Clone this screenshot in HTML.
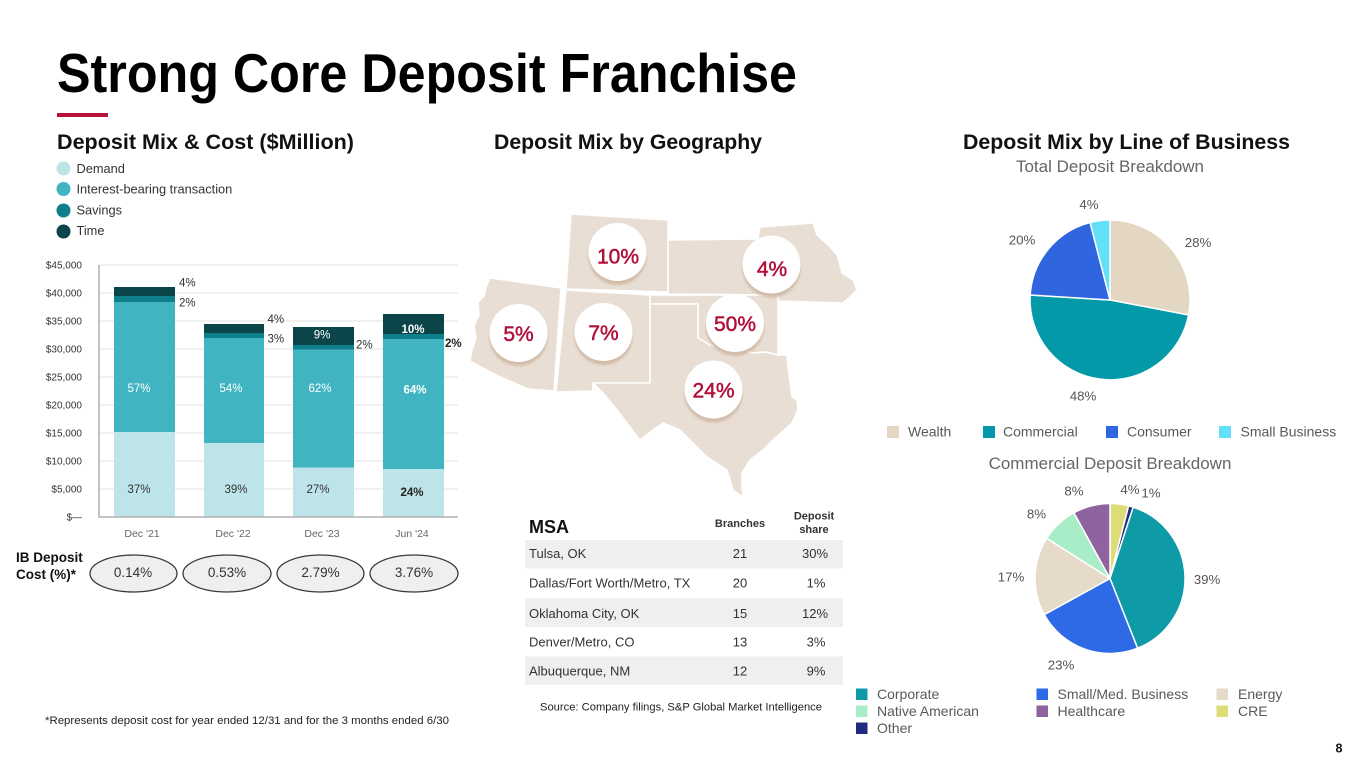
<!DOCTYPE html>
<html><head><meta charset="utf-8"><style>
html,body{margin:0;padding:0;background:#fff;}
body{width:1365px;height:769px;overflow:hidden;}
svg{display:block;font-family:"Liberation Sans",Arial,sans-serif;}
</style></head><body>
<svg width="1365" height="769" viewBox="0 0 1365 769" xmlns="http://www.w3.org/2000/svg">
<defs>
<filter id="sh" x="-30%" y="-30%" width="160%" height="160%"><feGaussianBlur stdDeviation="1.2"/></filter>
</defs>
<!-- Title -->
<text x="57" y="92" font-size="55" font-weight="bold" fill="#000" textLength="740" lengthAdjust="spacingAndGlyphs">Strong Core Deposit Franchise</text>
<rect x="57" y="113" width="51" height="4" fill="#b5123a"/>
<text x="57" y="149" font-size="21.5" font-weight="bold" fill="#111" textLength="297" lengthAdjust="spacingAndGlyphs">Deposit Mix &amp; Cost ($Million)</text>
<text x="494" y="149" font-size="21.5" font-weight="bold" fill="#111" textLength="268" lengthAdjust="spacingAndGlyphs">Deposit Mix by Geography</text>
<text x="963" y="149" font-size="21.5" font-weight="bold" fill="#111" textLength="327" lengthAdjust="spacingAndGlyphs">Deposit Mix by Line of Business</text>

<!-- Bar chart legend -->
<circle cx="63.5" cy="168.5" r="7" fill="#bde4e8"/>
<circle cx="63.5" cy="189" r="7" fill="#41b4c2"/>
<circle cx="63.5" cy="210.5" r="7" fill="#0e7f8b"/>
<circle cx="63.5" cy="231.5" r="7" fill="#0b4449"/>
<g font-size="12.8" fill="#333">
<text x="76.5" y="173">Demand</text>
<text x="76.5" y="193.5">Interest-bearing transaction</text>
<text x="76.5" y="214.5">Savings</text>
<text x="76.5" y="235">Time</text>
</g>

<!-- grid -->
<g stroke="#e3e3e3" stroke-width="1">
<line x1="99" y1="265" x2="458" y2="265"/><line x1="99" y1="293" x2="458" y2="293"/>
<line x1="99" y1="321" x2="458" y2="321"/><line x1="99" y1="349" x2="458" y2="349"/>
<line x1="99" y1="377" x2="458" y2="377"/><line x1="99" y1="405" x2="458" y2="405"/>
<line x1="99" y1="433" x2="458" y2="433"/><line x1="99" y1="461" x2="458" y2="461"/>
<line x1="99" y1="489" x2="458" y2="489"/>
</g>
<g font-size="10" fill="#333" text-anchor="end">
<text x="82" y="268.5">$45,000</text><text x="82" y="296.5">$40,000</text>
<text x="82" y="324.5">$35,000</text><text x="82" y="352.5">$30,000</text>
<text x="82" y="380.5">$25,000</text><text x="82" y="408.5">$20,000</text>
<text x="82" y="436.5">$15,000</text><text x="82" y="464.5">$10,000</text>
<text x="82" y="492.5">$5,000</text><text x="82" y="520.5">$—</text>
</g>

<!-- bars -->
<g>
<rect x="114" y="287" width="61" height="9" fill="#0b4449"/>
<rect x="114" y="296" width="61" height="6" fill="#0e7f8b"/>
<rect x="114" y="302" width="61" height="130" fill="#41b4c2"/>
<rect x="114" y="432" width="61" height="85" fill="#bde4e8"/>

<rect x="204" y="324" width="60" height="9" fill="#0b4449"/>
<rect x="204" y="333" width="60" height="5" fill="#0e7f8b"/>
<rect x="204" y="338" width="60" height="105" fill="#41b4c2"/>
<rect x="204" y="443" width="60" height="74" fill="#bde4e8"/>

<rect x="293" y="327" width="61" height="18" fill="#0b4449"/>
<rect x="293" y="345" width="61" height="4.5" fill="#0e7f8b"/>
<rect x="293" y="349.5" width="61" height="118" fill="#41b4c2"/>
<rect x="293" y="467.5" width="61" height="49.5" fill="#bde4e8"/>

<rect x="383" y="314" width="61" height="20" fill="#0b4449"/>
<rect x="383" y="334" width="61" height="5" fill="#0e7f8b"/>
<rect x="383" y="339" width="61" height="130" fill="#41b4c2"/>
<rect x="383" y="469" width="61" height="48" fill="#bde4e8"/>
</g>
<line x1="99" y1="265" x2="99" y2="517.5" stroke="#b0b0b0" stroke-width="1.5"/>
<line x1="99" y1="517" x2="458" y2="517" stroke="#b0b0b0" stroke-width="1.5"/>

<g font-size="11.5" text-anchor="middle">
<text x="139" y="392" fill="#fff">57%</text>
<text x="139" y="493" fill="#333">37%</text>
<text x="231" y="392" fill="#fff">54%</text>
<text x="236" y="493" fill="#333">39%</text>
<text x="320" y="392" fill="#fff">62%</text>
<text x="318" y="493" fill="#333">27%</text>
<text x="322" y="338.5" fill="#fff">9%</text>
<text x="415" y="393.5" fill="#fff" font-weight="bold">64%</text>
<text x="412" y="496" fill="#222" font-weight="bold">24%</text>
<text x="413" y="333" fill="#fff" font-weight="bold">10%</text>
</g>
<g font-size="11.5" fill="#333">
<text x="179" y="286.5">4%</text>
<text x="179" y="306.5">2%</text>
<text x="267.5" y="323">4%</text>
<text x="267.5" y="342.5">3%</text>
<text x="356" y="348.5">2%</text>
<text x="445" y="347" font-weight="bold" fill="#222">2%</text>
</g>
<g font-size="10.5" fill="#666" text-anchor="middle">
<text x="142" y="537">Dec '21</text><text x="233" y="537">Dec '22</text>
<text x="322" y="537">Dec '23</text><text x="412" y="537">Jun '24</text>
</g>

<!-- IB deposit cost -->
<g font-size="13.5" font-weight="bold" fill="#111">
<text x="16" y="562">IB Deposit</text>
<text x="16" y="579">Cost (%)*</text>
</g>
<g fill="#efefef" stroke="#3a3a3a" stroke-width="1.3">
<ellipse cx="133.5" cy="573.5" rx="43.5" ry="18.5"/>
<ellipse cx="227" cy="573.5" rx="44" ry="18.5"/>
<ellipse cx="320.5" cy="573.5" rx="43.5" ry="18.5"/>
<ellipse cx="414" cy="573.5" rx="44" ry="18.5"/>
</g>
<g font-size="13.5" fill="#333" text-anchor="middle">
<text x="133" y="577">0.14%</text><text x="227" y="577">0.53%</text>
<text x="320.5" y="577">2.79%</text><text x="414" y="577">3.76%</text>
</g>
<text x="45" y="724" font-size="10.8" fill="#222" textLength="404" lengthAdjust="spacingAndGlyphs">*Represents deposit cost for year ended 12/31 and for the 3 months ended 6/30</text>

<!-- Map -->
<g fill="#e9ded4" stroke="#fff" stroke-width="1.5" stroke-linejoin="round">
<path d="M490,278 L561,288 L554,391 L528,389 L496,375 L470,361 L472,350 L476,338 L474,326 L479,315 L478,302 L484,296 L486,287 Z"/>
<path d="M571,214 L668,220 L668,292 L566,289 Z"/>
<path d="M566,290 L650,295 L650,383 L593,383 L593,391 L556,392 Z"/>
<path d="M668,240 L758,239 L760,227 L813,223 L817,235 L830,247 L837,255 L840,265 L842,273 L853,280 L857,290 L850,297 L843,303 L778,301 L778,295 L668,294 Z"/>
<path d="M650,295 L778,295 L778,355 L766,352 L753,353 L740,350 L720,347 L710,345 L698,338 L698,304 L650,304 Z"/>
<path d="M650,304 L698,304 L698,338 L710,345 L720,347 L740,350 L753,353 L766,352 L778,355 L787,355 L788,367 L792,397 L797,400 L798,410 L792,423 L773,440 L763,450 L750,460 L742,473 L742,487 L743,497 L733,490 L727,470 L707,457 L693,443 L680,430 L663,423 L653,430 L640,440 L630,427 L617,410 L603,393 L593,383 L650,383 Z"/>
</g>
<g fill="#d2bca8" filter="url(#sh)">
<circle cx="617.5" cy="256" r="29"/>
<circle cx="771.5" cy="268.5" r="29"/>
<circle cx="518.5" cy="337" r="29"/>
<circle cx="603.5" cy="336" r="29"/>
<circle cx="735" cy="327" r="29"/>
<circle cx="713.5" cy="393.5" r="29"/>
</g>
<g fill="#fff">
<circle cx="617.5" cy="252" r="29"/>
<circle cx="771.5" cy="264.5" r="29"/>
<circle cx="518.5" cy="333" r="29"/>
<circle cx="603.5" cy="332" r="29"/>
<circle cx="735" cy="323" r="29"/>
<circle cx="713.5" cy="389.5" r="29"/>
</g>
<g font-size="21" fill="#b0103a" stroke="#b0103a" stroke-width="0.5" text-anchor="middle">
<text x="618" y="263.5">10%</text>
<text x="772" y="276">4%</text>
<text x="518.5" y="341">5%</text>
<text x="603.5" y="340">7%</text>
<text x="735" y="331">50%</text>
<text x="713.5" y="397.5">24%</text>
</g>

<!-- Table -->
<g fill="#efefef">
<rect x="525" y="540" width="318" height="28.5"/>
<rect x="525" y="598" width="318" height="29"/>
<rect x="525" y="656.5" width="318" height="28.5"/>
</g>
<text x="529" y="533" font-size="18" font-weight="bold" fill="#111">MSA</text>
<g font-size="11" font-weight="bold" fill="#333" text-anchor="middle">
<text x="740" y="527">Branches</text>
<text x="814" y="519.5">Deposit</text>
<text x="814" y="533">share</text>
</g>
<g font-size="13" fill="#333">
<text x="529" y="558">Tulsa, OK</text>
<text x="529" y="587.5">Dallas/Fort Worth/Metro, TX</text>
<text x="529" y="618">Oklahoma City, OK</text>
<text x="529" y="646.5">Denver/Metro, CO</text>
<text x="529" y="675.5">Albuquerque, NM</text>
</g>
<g font-size="13" fill="#333" text-anchor="middle">
<text x="740" y="558">21</text><text x="740" y="587.5">20</text><text x="740" y="618">15</text>
<text x="740" y="646.5">13</text><text x="740" y="675.5">12</text>
<text x="815" y="558">30%</text><text x="816" y="587.5">1%</text><text x="815" y="618">12%</text>
<text x="816" y="646.5">3%</text><text x="816" y="675.5">9%</text>
</g>
<text x="540" y="710.5" font-size="10.8" fill="#222" textLength="282" lengthAdjust="spacingAndGlyphs">Source: Company filings, S&amp;P Global Market Intelligence</text>

<!-- Pie 1 -->
<text x="1110" y="172" font-size="17" fill="#666" text-anchor="middle">Total Deposit Breakdown</text>
<g stroke="#fff" stroke-width="1.5" stroke-linejoin="round">
<path d="M1110,300 L1110,220 A80,80 0 0,1 1188.6,315 Z" fill="#e3d7c3"/>
<path d="M1110,300 L1188.6,315 A80,80 0 0,1 1030.2,295 Z" fill="#0499a8"/>
<path d="M1110,300 L1030.2,295 A80,80 0 0,1 1090.1,222.5 Z" fill="#2f66e0"/>
<path d="M1110,300 L1090.1,222.5 A80,80 0 0,1 1110,220 Z" fill="#62e0f8"/>
</g>
<g font-size="13.3" fill="#555" text-anchor="middle">
<text x="1198" y="247">28%</text>
<text x="1083" y="400.5">48%</text>
<text x="1022" y="244.5">20%</text>
<text x="1089" y="209">4%</text>
</g>
<rect x="887" y="426" width="12" height="12" fill="#e3d7c3"/>
<rect x="983" y="426" width="12" height="12" fill="#0499a8"/>
<rect x="1106" y="426" width="12" height="12" fill="#2f66e0"/>
<rect x="1219" y="426" width="12" height="12" fill="#62e0f8"/>
<g font-size="14" fill="#595959">
<text x="908" y="436.5">Wealth</text>
<text x="1003" y="436.5">Commercial</text>
<text x="1127" y="436.5">Consumer</text>
<text x="1240.5" y="436.5">Small Business</text>
</g>

<!-- Pie 2 -->
<text x="1110" y="469" font-size="17" fill="#666" text-anchor="middle">Commercial Deposit Breakdown</text>
<g stroke="#fff" stroke-width="1.5" stroke-linejoin="round">
<path d="M1110,578.5 L1110,503.5 A75,75 0 0,1 1128.65,505.85 Z" fill="#dcdc78"/>
<path d="M1110,578.5 L1128.65,505.85 A75,75 0 0,1 1133.18,507.17 Z" fill="#1f2a80"/>
<path d="M1110,578.5 L1133.18,507.17 A75,75 0 0,1 1137.61,648.24 Z" fill="#0e9aa7"/>
<path d="M1110,578.5 L1137.61,648.24 A75,75 0 0,1 1044.28,614.63 Z" fill="#2f6ae6"/>
<path d="M1110,578.5 L1044.28,614.63 A75,75 0 0,1 1046.68,538.32 Z" fill="#e6dac8"/>
<path d="M1110,578.5 L1046.68,538.32 A75,75 0 0,1 1073.87,512.78 Z" fill="#a8ecc8"/>
<path d="M1110,578.5 L1073.87,512.78 A75,75 0 0,1 1110,503.5 Z" fill="#8e63a0"/>
</g>
<g font-size="13.3" fill="#555" text-anchor="middle">
<text x="1130" y="494">4%</text>
<text x="1151" y="497.5">1%</text>
<text x="1207" y="584">39%</text>
<text x="1061" y="669.5">23%</text>
<text x="1011" y="581.5">17%</text>
<text x="1036.5" y="518.5">8%</text>
<text x="1074" y="495.5">8%</text>
</g>
<rect x="856" y="688.5" width="11.5" height="11.5" fill="#0e9aa7"/>
<rect x="1036.5" y="688.5" width="11.5" height="11.5" fill="#2f6ae6"/>
<rect x="1216.5" y="688.5" width="11.5" height="11.5" fill="#e6dac8"/>
<rect x="856" y="705.5" width="11.5" height="11.5" fill="#a8ecc8"/>
<rect x="1036.5" y="705.5" width="11.5" height="11.5" fill="#8e63a0"/>
<rect x="1216.5" y="705.5" width="11.5" height="11.5" fill="#dcdc78"/>
<rect x="856" y="722.5" width="11.5" height="11.5" fill="#1f2a80"/>
<g font-size="14" fill="#595959">
<text x="877" y="699">Corporate</text>
<text x="1057.5" y="699">Small/Med. Business</text>
<text x="1238" y="699">Energy</text>
<text x="877" y="716">Native American</text>
<text x="1057.5" y="716">Healthcare</text>
<text x="1238" y="716">CRE</text>
<text x="877" y="733">Other</text>
</g>

<text x="1339" y="752.5" font-size="12.5" font-weight="bold" fill="#111" text-anchor="middle">8</text>
</svg>
</body></html>
